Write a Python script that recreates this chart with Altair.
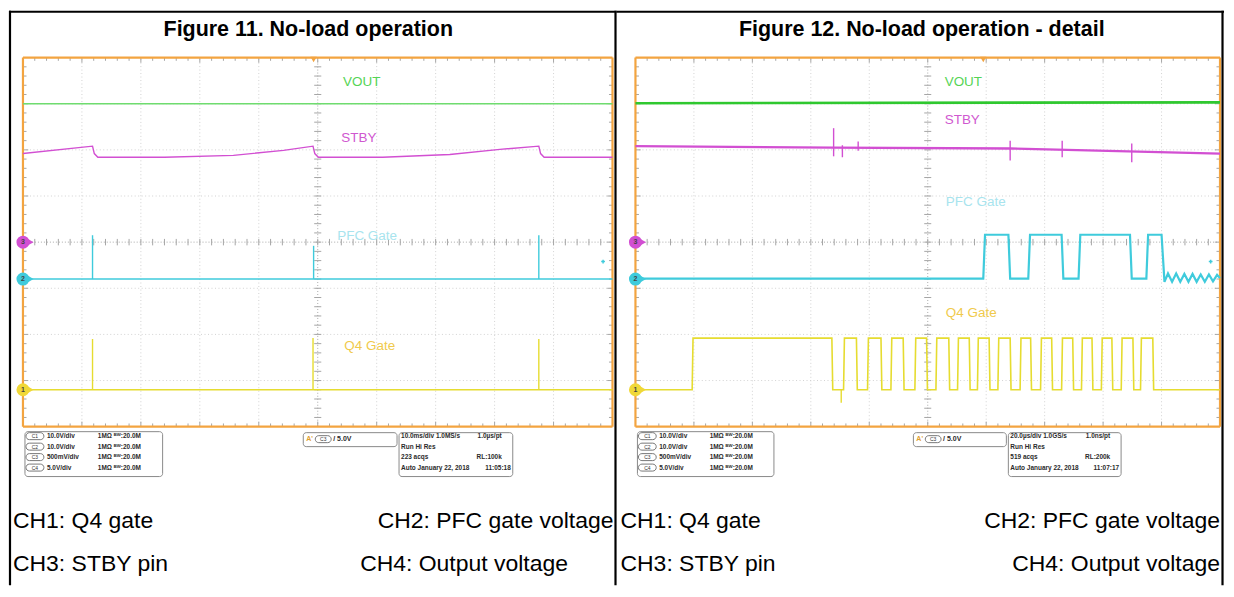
import altair as alt
import pandas as pd

# Screen units: x = horizontal divisions (0..10), y = vertical divisions (-4..4, 0 = centre line)

# ---- Figure 11: No-load operation (10 ms/div) ----
f11_vout_x = [0.0, 10.0]
f11_vout_y = [3.00, 3.00]

f11_stby_x = [0.0, 1.18, 1.21, 1.27, 2.40, 3.57, 4.42, 4.92, 4.95, 5.01, 6.10, 7.24, 8.09, 8.75, 8.78, 8.84, 10.0]
f11_stby_y = [1.92, 2.08, 1.92, 1.84, 1.84, 1.88, 1.99, 2.08, 1.92, 1.84, 1.84, 1.90, 2.01, 2.08, 1.92, 1.84, 1.84]

f11_pfc_level = -0.80
f11_pfc_spike_x = [1.18, 4.93, 8.75]
f11_pfc_spike_top = [0.15, -0.08, 0.15]

f11_q4_level = -3.20
f11_q4_spike_x = [1.18, 4.92, 8.75]
f11_q4_spike_top = [-2.10, -2.08, -2.10]

# ---- Figure 12: No-load operation - detail (20 us/div) ----
f12_vout_x = [0.0, 10.0]
f12_vout_y = [3.01, 3.03]

f12_stby_x = [0.0, 3.39, 6.41, 10.0]
f12_stby_y = [2.08, 2.05, 2.03, 1.92]
f12_stby_spike_x = [3.39, 3.54, 3.81, 6.41, 7.30, 8.49]
f12_stby_spike_top = [2.47, 2.10, 2.18, 2.20, 2.20, 2.14]
f12_stby_spike_bot = [1.86, 1.84, 1.98, 1.77, 1.84, 1.73]

f12_pfc_x = [0.0, 5.95, 5.98, 6.38, 6.41, 6.72, 6.75, 7.29, 7.32, 7.58, 7.61, 8.46, 8.49, 8.74, 8.77,
             9.00, 9.05, 9.11, 9.18, 9.25, 9.32, 9.39, 9.46, 9.53, 9.60, 9.67, 9.74, 9.81, 9.88, 9.95, 10.0]
f12_pfc_y = [-0.79, -0.79, 0.16, 0.16, -0.79, -0.79, 0.16, 0.16, -0.79, -0.79, 0.16, 0.16, -0.79, -0.79, 0.16,
             0.16, -0.86, -0.68, -0.86, -0.68, -0.86, -0.69, -0.86, -0.69, -0.86, -0.70, -0.86, -0.70, -0.85, -0.71, -0.78]

f12_q4_low = -3.20
f12_q4_high = -2.08
f12_q4_rise = [0.97, 3.56, 3.97, 4.37, 4.78, 5.14, 5.51, 5.85, 6.20, 6.58, 6.93, 7.29, 7.63, 7.97, 8.31, 8.64]
f12_q4_fall = [3.36, 3.78, 4.20, 4.58, 4.98, 5.36, 5.71, 6.05, 6.41, 6.76, 7.12, 7.48, 7.81, 8.15, 8.51, 8.85]
f12_q4_glitch_x = [3.52]
f12_q4_glitch_bot = [-3.48]

# channel ground markers (C3 STBY, C2 PFC, C1 Q4)
marker_ch = ["3", "2", "1"]
marker_y = [0.0, -0.80, -3.20]

trace_labels = ["VOUT", "STBY", "PFC Gate", "Q4 Gate"]
f11_label_x = [5.43, 5.40, 5.33, 5.45]
f11_label_y = [3.46, 2.25, 0.13, -2.25]
f12_label_x = [5.29, 5.29, 5.31, 5.31]
f12_label_y = [3.46, 2.64, 0.87, -1.54]

f11_trigger_x = 4.93
f12_trigger_x = 5.95

ch_names = ["C1", "C2", "C3", "C4"]
ch_scale = ["10.0V/div", "10.0V/div", "500mV/div", "5.0V/div"]
ch_input = ["1MΩ ᴮᵂ:20.0M"] * 4
f11_acq_left = ["10.0ms/div 1.0MS/s", "Run        Hi Res", "223 acqs", "Auto    January 22, 2018"]
f11_acq_right = ["1.0µs/pt", "", "RL:100k", "11:05:18"]
f12_acq_left = ["20.0µs/div 1.0GS/s", "Run        Hi Res", "519 acqs", "Auto    January 22, 2018"]
f12_acq_right = ["1.0ns/pt", "", "RL:200k", "11:07:17"]

captions = ["CH1: Q4 gate", "CH2: PFC gate voltage", "CH3: STBY pin", "CH4: Output voltage"]

# ================= STYLE / LAYOUT =================
W, H = 609, 578
TOP, PPD_Y = 49, 46.25
YS = alt.Scale(domain=[4 - (H - TOP) / PPD_Y, 4 + TOP / PPD_Y], nice=False, zero=False)
ONE = alt.Data(values=[{"k": 0}])
FONT = "Liberation Sans"
C_GREEN1, C_GREEN2 = "#6fdc6f", "#2fc82f"
C_MAG = "#d24fd2"
C_CYAN = "#3fcbdc"
C_YEL = "#e6dc30"
C_ORANGE = "#f3a440"
MARK_COL = [C_MAG, C_CYAN, "#f0d838"]
LABEL_COL = ["#55d455", "#d058d0", "#a8e4ee", "#f0ca4c"]


def text_at(s, x, y, size=7, color="#222", weight="normal", align="left", baseline="middle", font=FONT):
    return alt.Chart(ONE).mark_text(text=s, fontSize=size, color=color, fontWeight=weight, align=align,
                                    baseline=baseline, font=font).encode(x=alt.value(x), y=alt.value(y))


def rect_at(x, x2, y, y2, stroke="#8a8a8a", sw=1, r=3, fill="#ffffff"):
    return alt.Chart(ONE).mark_rect(stroke=stroke, strokeWidth=sw, cornerRadius=r, fill=fill).encode(
        x=alt.value(x), x2=alt.value(x2), y=alt.value(y), y2=alt.value(y2))


def rule_at(x, x2, y, y2, color="#000", sw=2):
    return alt.Chart(ONE).mark_rule(color=color, strokeWidth=sw).encode(
        x=alt.value(x), x2=alt.value(x2), y=alt.value(y), y2=alt.value(y2))


def build_panel(P, D):
    fl, ppd = P["fl"], P["ppd"]
    XS = alt.Scale(domain=[-fl / ppd, (W - fl) / ppd], nice=False, zero=False)
    k = ppd / 59.1

    def X(r):
        return fl + r * k

    def ax(f):
        return alt.X(f, scale=XS, axis=None)

    def ay(f):
        return alt.Y(f, scale=YS, axis=None)

    def segs(rows, color, sw, dash=None):
        df = pd.DataFrame(rows, columns=["x", "y", "x2", "y2"])
        kw = dict(color=color, strokeWidth=sw)
        if dash:
            kw["strokeDash"] = dash
        return alt.Chart(df).mark_rule(**kw).encode(x=ax("x:Q"), y=ay("y:Q"), x2="x2:Q", y2="y2:Q")

    def line(xs, ys, color, sw):
        df = pd.DataFrame({"x": xs, "y": ys, "i": list(range(len(xs)))})
        return alt.Chart(df).mark_line(color=color, strokeWidth=sw).encode(
            x=ax("x:Q"), y=ay("y:Q"), order="i:Q")

    def spikes(xs, tops, bots, color, sw):
        df = pd.DataFrame({"x": xs, "y": tops, "y2": bots})
        return alt.Chart(df).mark_rule(color=color, strokeWidth=sw).encode(x=ax("x:Q"), y=ay("y:Q"), y2="y2:Q")

    L = []
    # ---- outer table lines ----
    L.append(rule_at(0, W, 3, 3, sw=2))
    for vx in P["vlines"]:
        L.append(rule_at(vx, vx, 2, H, sw=2.2))
    # ---- title ----
    L.append(text_at(P["title"], P["title_cx"], 21, size=21.5, color="#000", weight="bold", align="center"))

    # ---- graticule ----
    grid = [(g, -4, g, 4) for g in range(1, 10) if g != 5] + [(0, g, 10, g) for g in range(-3, 4) if g != 0]
    L.append(segs(grid, "#d2d2d2", 1, dash=[1, 2.5]))
    L.append(segs([(5, -4, 5, 4), (0, 0, 10, 0)], "#ababab", 1, dash=[1, 2]))
    ticks = []
    for i in range(1, 50):
        t = i * 0.2
        h = 0.11 if i % 5 == 0 else 0.07
        ticks += [(t, -0.07, t, 0.07), (t, 4, t, 4 - h), (t, -4, t, -4 + h)]
    for i in range(1, 40):
        t = -4 + i * 0.2
        h = 0.09 if i % 5 == 0 else 0.06
        ticks += [(4.94, t, 5.06, t), (0, t, h, t), (10, t, 10 - h, t)]
    L.append(segs(ticks, "#a6a6a6", 1))
    L.append(segs([(0, -4, 0, 4), (10, -4, 10, 4), (0, 4, 10, 4), (0, -4, 10, -4)], C_ORANGE, 2.2))

    # ---- traces ----
    L.append(line(D["vout_x"], D["vout_y"], D["green"], D["w_green"]))
    L.append(line(D["stby_x"], D["stby_y"], C_MAG, D["w_mag"]))
    if D.get("stby_spk"):
        sx, st, sb = D["stby_spk"]
        L.append(spikes(sx, st, sb, C_MAG, 1.4))
    L.append(line(D["pfc_x"], D["pfc_y"], C_CYAN, D["w_cyan"]))
    if D.get("pfc_spk"):
        sx, st, sb = D["pfc_spk"]
        L.append(spikes(sx, st, sb, C_CYAN, 1.4))
    L.append(line(D["q4_x"], D["q4_y"], C_YEL, D["w_yel"]))
    if D.get("q4_spk"):
        sx, st, sb = D["q4_spk"]
        L.append(spikes(sx, st, sb, C_YEL, 1.4))

    # ---- trace labels ----
    ldf = pd.DataFrame({"x": D["lab_x"], "y": D["lab_y"], "t": trace_labels, "c": LABEL_COL})
    L.append(alt.Chart(ldf).mark_text(align="left", baseline="middle", fontSize=13.5, font=FONT).encode(
        x=ax("x:Q"), y=ay("y:Q"), text="t:N", color=alt.Color("c:N", scale=None)))

    # ---- markers ----
    mdf = pd.DataFrame({"x": [0.0] * 3, "y": marker_y, "c": MARK_COL, "t": marker_ch})
    L.append(alt.Chart(mdf).mark_point(shape="triangle-right", filled=True, opacity=1, size=70, xOffset=7).encode(
        x=ax("x:Q"), y=ay("y:Q"), color=alt.Color("c:N", scale=None)))
    L.append(alt.Chart(mdf).mark_point(shape="circle", filled=True, opacity=1, size=170).encode(
        x=ax("x:Q"), y=ay("y:Q"), color=alt.Color("c:N", scale=None)))
    L.append(alt.Chart(mdf).mark_text(fontSize=7, color="#444", fontWeight="bold", font=FONT).encode(
        x=ax("x:Q"), y=ay("y:Q"), text="t:N"))
    tdf = pd.DataFrame({"x": [D["trig"]], "y": [4.0]})
    L.append(alt.Chart(tdf).mark_point(shape="triangle-down", filled=True, opacity=1, size=40, yOffset=2,
                                       color=C_ORANGE).encode(x=ax("x:Q"), y=ay("y:Q")))
    pdf = pd.DataFrame({"x": [9.84], "y": [-0.42]})
    L.append(alt.Chart(pdf).mark_point(shape="cross", filled=True, opacity=1, size=14, color=C_CYAN).encode(
        x=ax("x:Q"), y=ay("y:Q")))

    # ---- info boxes ----
    rows_y = [428.5, 439.0, 449.5, 460.0]
    L.append(rect_at(X(2), X(140), 424, 469))
    for i, ry in enumerate(rows_y):
        L.append(rect_at(X(3), X(21), ry - 3.5, ry + 3.5, stroke="#777777", r=3.5))
        L.append(text_at(ch_names[i], X(12), ry, size=5, color="#333", align="center"))
        L.append(text_at(ch_scale[i], X(24), ry, size=6.5, color="#2a2a2a", weight="bold"))
        L.append(text_at(ch_input[i], X(75), ry, size=6.5, color="#2a2a2a", weight="bold"))
    L.append(rect_at(X(281), X(375), 425, 439))
    L.append(text_at("A'", X(284), 431.5, size=7, color="#e0a030", weight="bold"))
    L.append(rect_at(X(293), X(309), 428, 435, stroke="#777777", r=3.5))
    L.append(text_at("C3", X(301), 431.5, size=5, color="#333", align="center"))
    L.append(text_at("/ 5.0V", X(311), 431.5, size=7, color="#2a2a2a", weight="bold"))
    L.append(rect_at(X(377), X(491), 425, 469))
    for i, ry in enumerate(rows_y):
        L.append(text_at(D["acq_l"][i], X(379), ry, size=6.5, color="#2a2a2a", weight="bold"))
        if D["acq_r"][i]:
            L.append(text_at(D["acq_r"][i], X(480 if i < 3 else 489), ry, size=6.5, color="#2a2a2a",
                             weight="bold", align="right"))

    # ---- captions ----
    cx = P["cap_x"]
    for i, s in enumerate(captions):
        x, al = cx[i]
        L.append(text_at(s, x, 514 if i < 2 else 557, size=23, color="#000", align=al))

    return alt.layer(*L).properties(width=W, height=H)


def step_wave(rises, falls, low, high):
    xs, ys = [0.0], [low]
    for r, f in zip(rises, falls):
        xs += [r, r + 0.015, f, f + 0.015]
        ys += [low, high, high, low]
    xs.append(10.0)
    ys.append(low)
    return xs, ys


q4_12_x, q4_12_y = step_wave(f12_q4_rise, f12_q4_fall, f12_q4_low, f12_q4_high)

D11 = dict(
    vout_x=f11_vout_x, vout_y=f11_vout_y, green=C_GREEN1, w_green=1.3,
    stby_x=f11_stby_x, stby_y=f11_stby_y, w_mag=1.4,
    pfc_x=[0.0, 10.0], pfc_y=[f11_pfc_level] * 2, w_cyan=1.6,
    pfc_spk=(f11_pfc_spike_x, f11_pfc_spike_top, [f11_pfc_level] * 3),
    q4_x=[0.0, 10.0], q4_y=[f11_q4_level] * 2, w_yel=1.6,
    q4_spk=(f11_q4_spike_x, f11_q4_spike_top, [f11_q4_level] * 3),
    lab_x=f11_label_x, lab_y=f11_label_y, trig=f11_trigger_x,
    acq_l=f11_acq_left, acq_r=f11_acq_right,
)
D12 = dict(
    vout_x=f12_vout_x, vout_y=f12_vout_y, green=C_GREEN2, w_green=2.6,
    stby_x=f12_stby_x, stby_y=f12_stby_y, w_mag=2.3,
    stby_spk=(f12_stby_spike_x, f12_stby_spike_top, f12_stby_spike_bot),
    pfc_x=f12_pfc_x, pfc_y=f12_pfc_y, w_cyan=2.2,
    q4_x=q4_12_x, q4_y=q4_12_y, w_yel=1.6,
    q4_spk=(f12_q4_glitch_x, [f12_q4_low], f12_q4_glitch_bot),
    lab_x=f12_label_x, lab_y=f12_label_y, trig=f12_trigger_x,
    acq_l=f12_acq_left, acq_r=f12_acq_right,
)

P11 = dict(fl=14, ppd=59.1, vlines=[1, 608], title="Figure 11. No-load operation", title_cx=300,
           cap_x=[(4, "left"), (606, "right"), (4, "left"), (352, "left")])
P12 = dict(fl=19, ppd=58.6, vlines=[607.5], title="Figure 12. No-load operation - detail", title_cx=306,
           cap_x=[(4, "left"), (605, "right"), (4, "left"), (605, "right")])

chart = alt.hconcat(build_panel(P11, D11), build_panel(P12, D12), spacing=0, bounds="flush").properties(
    padding=0).configure_view(stroke=None)

chart.save("out.html", embed_options={"renderer": "svg", "actions": False})
